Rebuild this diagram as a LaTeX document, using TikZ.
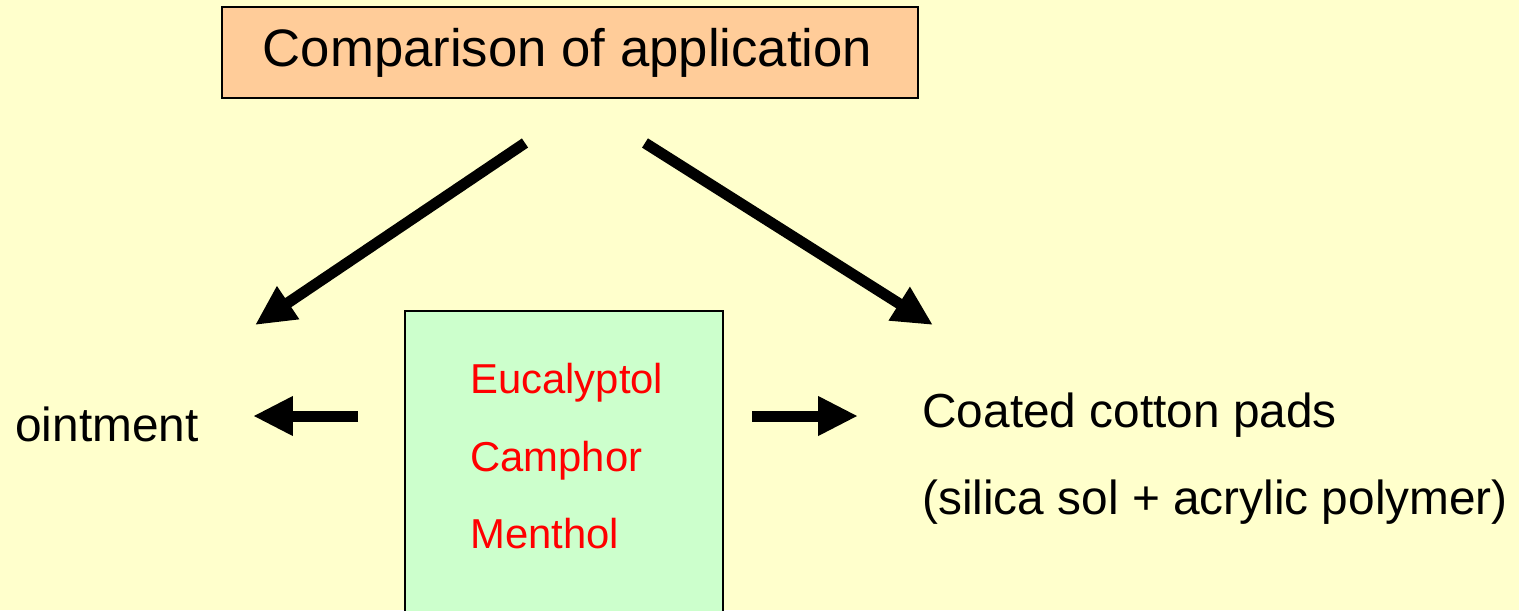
\documentclass[tikz,border=0pt]{standalone}
\usepackage{fontspec}
\setmainfont{Liberation Sans}
\usetikzlibrary{arrows.meta}
\definecolor{bg}{HTML}{FFFFCC}
\definecolor{peach}{HTML}{FFCC99}
\definecolor{mint}{HTML}{CCFFCC}
\definecolor{redtext}{HTML}{FF0000}
\tikzset{
  bigarrow/.style={line width=0.22cm, -{Triangle[length=0.8cm,width=0.74cm]}},
  bodytext/.style={inner sep=0pt, anchor=base west, font=\fontsize{27.2pt}{32pt}\selectfont},
  redlabel/.style={inner sep=0pt, anchor=base west, text=redtext, font=\fontsize{23.8pt}{28pt}\selectfont},
  titlebox/.style={draw=black, line width=1.2pt, fill=peach, minimum width=13.92cm, minimum height=1.82cm, inner sep=0pt, font=\fontsize{30pt}{36pt}\selectfont},
  chembox/.style={draw=black, line width=1.2pt, fill=mint, minimum width=6.36cm, minimum height=6.2cm, inner sep=0pt, anchor=north west}
}
\begin{document}
\begin{tikzpicture}[x=0.02cm, y=-0.02cm]
\useasboundingbox (0,0) rectangle (1519,610);
\fill[bg] (0,0) rectangle (1519,610);
\node[titlebox] (title) at (570,52.5) {\hspace*{-0.1cm}Comparison of application};
\node[chembox] (chem) at (404,310) {};
\node[redlabel] (eucal) at (470,393) {Eucalyptol};
\node[redlabel] (camphor) at (470,471) {Camphor};
\node[redlabel] (menthol) at (470,548) {Menthol};
\node[bodytext] (ointment) at (15,441) {ointment};
\node[bodytext] (coated) at (922,427) {Coated cotton pads};
\node[bodytext] (polymer) at (922,514) {(silica sol + acrylic polymer)};
\coordinate (dlstart) at (525,143);
\coordinate (dlend) at (255,325);
\coordinate (drstart) at (645,143);
\coordinate (drend) at (933,325);
\coordinate (hlstart) at (358,416);
\coordinate (hlend) at (253,416);
\coordinate (hrstart) at (752,416);
\coordinate (hrend) at (858,416);
\draw[bigarrow] (dlstart) -- (dlend);
\draw[bigarrow] (drstart) -- (drend);
\draw[bigarrow] (hlstart) -- (hlend);
\draw[bigarrow] (hrstart) -- (hrend);
\end{tikzpicture}
\end{document}
